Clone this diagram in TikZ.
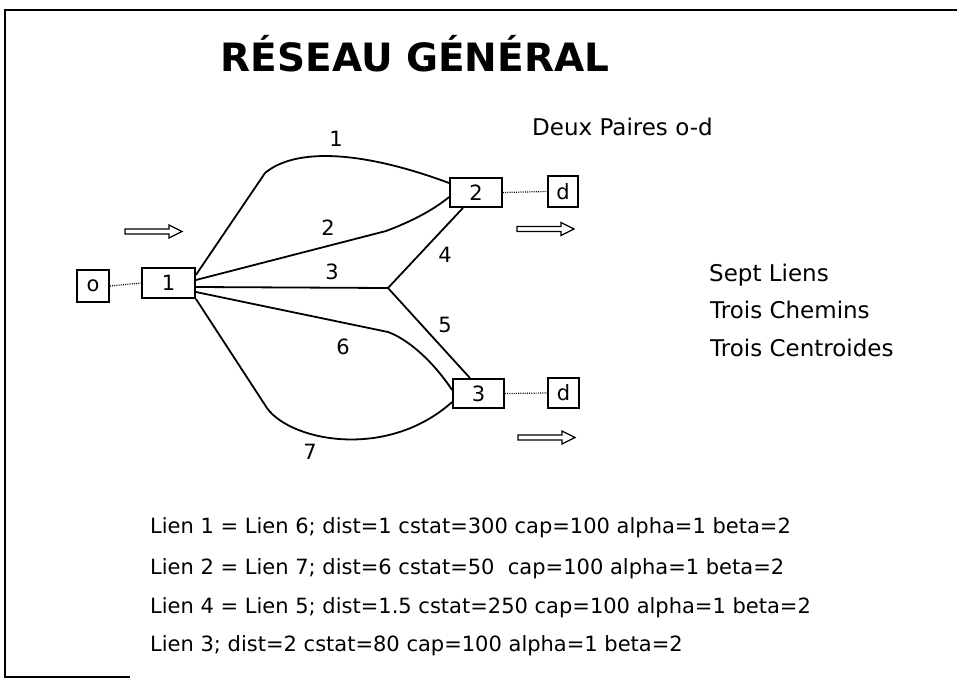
\documentclass[tikz,border=0pt]{standalone}
\usepackage{fontspec}
\setmainfont{DejaVu Sans}
\begin{document}
\begin{tikzpicture}[x=1pt,y=-1pt,
  box/.style={draw, line width=1.8pt, inner sep=0pt, font=\fontsize{21}{24}\selectfont},
  link/.style={line width=1.8pt, line join=round},
  dotlink/.style={dash pattern=on 1pt off 1.2pt, line width=1.2pt},
  lnum/.style={font=\fontsize{21}{24}\selectfont, inner sep=0pt},
  side/.style={font=\fontsize{23}{27}\selectfont, anchor=base west, inner sep=0pt},
  info/.style={font=\fontsize{21}{25}\selectfont, anchor=base west, inner sep=0pt},
  hollowarrow/.pic={\draw[line width=1.3pt, line join=miter]
     (0,-2.5) -- (44,-2.5) -- (44,-6.5) -- (57,0) -- (44,6.5) -- (44,2.5) -- (0,2.5) -- cycle;}
]
\useasboundingbox (0,0) rectangle (957,680);
% frame
\draw[line width=2.4pt] (957,10) -- (5,10) -- (5,677) -- (130,677);
% title
\node[font=\fontsize{39}{44}\selectfont\bfseries, anchor=base, inner sep=0pt] (title) at (415,71) {RÉSEAU GÉNÉRAL};
% nodes
\node[box, minimum width=32pt, minimum height=32pt] (o) at (93,286) {o};
\node[box, minimum width=53pt, minimum height=30pt] (n1) at (168.5,283) {1};
\node[box, minimum width=52pt, minimum height=29pt] (n2) at (476,192.5) {2};
\node[box, minimum width=30pt, minimum height=31pt] (d1) at (563,191.5) {d};
\node[box, minimum width=51pt, minimum height=29pt] (n3) at (478.5,393.5) {3};
\node[box, minimum width=31pt, minimum height=30pt] (d2) at (563.5,393) {d};
% bend points
\coordinate (j) at (388,288);
\coordinate (b1) at (265,173);
\coordinate (b2) at (386,231);
\coordinate (b6) at (388,332);
\coordinate (b7) at (265,405);
% dotted connectors
\draw[dotlink] (o.east) -- (n1.west);
\draw[dotlink] (n2.east) -- (d1.west);
\draw[dotlink] (n3.east) -- (d2.west);
% links
\draw[link] ([yshift=8pt]n1.east) -- (b1) .. controls (295,148) and (360,150) .. ([yshift=9.5pt]n2.west);
\draw[link] ([yshift=3pt]n1.east) -- (b2) .. controls (410,222) and (432,211) .. ([yshift=-4.5pt]n2.west);
\draw[link] ([yshift=-4pt]n1.east) -- (j);
\draw[link] (j) -- ([xshift=-13pt]n2.south);
\draw[link] (j) -- ([xshift=-8.5pt]n3.north);
\draw[link] ([yshift=-9pt]n1.east) -- (b6) .. controls (410,340) and (435,364) .. ([yshift=3.5pt]n3.west);
\draw[link] (n1.south east) -- (b7) .. controls (285,440) and (385,462) .. ([yshift=-8.5pt]n3.west);
% link labels
\node[lnum] (l1) at (336,139) {1};
\node[lnum] (l2) at (328,228) {2};
\node[lnum] (l3) at (332,272) {3};
\node[lnum] (l4) at (445,255) {4};
\node[lnum] (l5) at (445,325) {5};
\node[lnum] (l6) at (343,347) {6};
\node[lnum] (l7) at (310,452) {7};
% flow arrows
\pic at (125,231.5) {hollowarrow};
\pic at (517,229) {hollowarrow};
\pic at (518,437.5) {hollowarrow};
% side texts
\node[side] (t0) at (532,135) {Deux Paires o-d};
\node[side] (t1) at (709,281) {Sept Liens};
\node[side] (t2) at (710,318) {Trois Chemins};
\node[side] (t3) at (710,356) {Trois Centroides};
% bottom texts
\node[info] (i1) at (150,533) {Lien 1 = Lien 6; dist=1 cstat=300 cap=100 alpha=1 beta=2};
\node[info] (i2) at (150,574) {Lien 2 = Lien 7; dist=6 cstat=50\ \ cap=100 alpha=1 beta=2};
\node[info] (i3) at (150,613) {Lien 4 = Lien 5; dist=1.5 cstat=250 cap=100 alpha=1 beta=2};
\node[info] (i4) at (150,651) {Lien 3; dist=2 cstat=80 cap=100 alpha=1 beta=2};
\end{tikzpicture}
\end{document}
